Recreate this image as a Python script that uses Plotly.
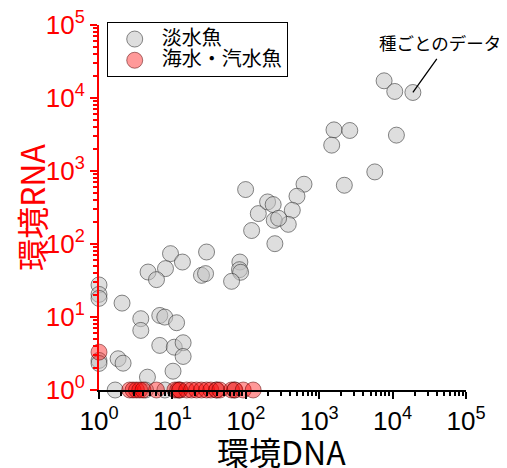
import math
import plotly.graph_objects as go

# Freshwater fish (淡水魚): environmental DNA (x) vs environmental RNA (y)
fresh_dna = [7660, 10700, 18900, 1590, 2610, 1480, 11270, 5720, 2200, 621,
             498, 430, 379, 249, 120, 148, 198, 236, 244, 280,
             99.4, 83, 82, 85, 9.42, 13.7, 29.2, 8.05, 4.66, 6.07,
             24.9, 28.3, 64, 2.06, 3.71, 3.71, 6.73, 7.87, 11.4, 6.73,
             10.6, 14, 14, 1.82, 2.13, 4.57, 10.2,
             1, 1, 1, 1, 1,
             1.66, 4.3, 7.9, 12.5, 40, 70]
fresh_rna = [17200, 12300, 11900, 3660, 3590, 2260, 3100, 972, 638, 659,
             451, 290, 186, 101, 153, 261, 377, 347, 211, 225,
             557, 56.6, 44.5, 41, 73.8, 56.6, 77.7, 46, 41.3, 32.5,
             37.2, 39.3, 30.8, 15.5, 9.48, 6.55, 10.5, 9.97, 8.35, 4.08,
             3.86, 4.44, 2.88, 2.68, 2.33, 1.5, 1.81,
             27.5, 20.4, 18, 2.54, 2.31,
             1, 1, 1, 1, 1, 1]

# Marine / brackish fish (海水・汽水魚)
sea_dna = [1, 2.62, 2.91, 3.24, 3.59, 3.98, 6.07, 10.8, 11.8, 12.6,
           15.6, 18.2, 21.3, 24.9, 29.2, 33.4, 40, 44.3, 64, 71,
           92.2, 126]
sea_rna = [3.3, 1, 1, 1, 1, 1, 1, 1, 1, 1,
           1, 1, 1, 1, 1, 1, 1, 1, 1, 1,
           1, 1]

tick_values = [1, 10, 100, 1000, 10000, 100000]
tick_labels = ["10<sup>0</sup>", "10<sup>1</sup>", "10<sup>2</sup>",
               "10<sup>3</sup>", "10<sup>4</sup>", "10<sup>5</sup>"]

series_names = ["淡水魚", "海水・汽水魚"]
x_title = "環境DNA"
y_title = "環境RNA"
note_text = "種ごとのデータ"
note_index = 2  # the freshwater point the note points at

JP = "Noto Sans CJK JP, Liberation Sans, sans-serif"
NUM = "Liberation Sans, Arial, sans-serif"

fig = go.Figure()
fig.add_trace(go.Scatter(
    x=fresh_dna, y=fresh_rna, mode="markers",
    name='<span style="font-size:20px">%s</span>' % series_names[0],
    cliponaxis=False,
    marker=dict(size=16, color="rgba(195,195,195,0.55)",
                line=dict(color="rgba(40,40,40,0.55)", width=1)),
))
fig.add_trace(go.Scatter(
    x=sea_dna, y=sea_rna, mode="markers",
    name='<span style="font-size:20px">%s</span>' % series_names[1],
    cliponaxis=False,
    marker=dict(size=16, color="rgba(255,0,0,0.4)",
                line=dict(color="rgba(80,0,0,0.5)", width=1)),
))

# leader line from the note to one point (annotations on log axes use log10)
fig.add_annotation(x=math.log10(fresh_dna[note_index]),
                   y=math.log10(fresh_rna[note_index]),
                   xref="x", yref="y", text="", showarrow=True,
                   arrowhead=0, arrowwidth=1.3, arrowcolor="black",
                   ax=25, ay=-35, standoff=0)
fig.add_annotation(x=0.93, y=0.951, xref="paper", yref="paper",
                   xanchor="center", yanchor="middle",
                   text=note_text, showarrow=False,
                   font=dict(family=JP, size=17.5, color="black"))
# x-axis title
fig.add_annotation(x=0.496, y=-0.168, xref="paper", yref="paper",
                   xanchor="center", yanchor="middle",
                   text=x_title, showarrow=False,
                   font=dict(family=JP, size=32, color="black"))

# the page adds an 8px body margin, so the figure is 8px smaller
fig.update_layout(
    width=499, height=460,
    margin=dict(l=91, r=41, t=17, b=78, pad=0),
    plot_bgcolor="white", paper_bgcolor="white",
    showlegend=True,
    legend=dict(x=0.021, y=1.007, xanchor="left", yanchor="top",
                bordercolor="black", borderwidth=1, bgcolor="white",
                font=dict(family=JP, size=14, color="black"),
                itemwidth=44, tracegroupgap=0),
)
fig.update_xaxes(
    type="log", range=[0, 5], tickvals=tick_values, ticktext=tick_labels,
    automargin=False, ticklabeloverflow="allow",
    showgrid=False, zeroline=False,
    showline=True, linecolor="black", linewidth=2,
    ticks="outside", ticklen=7, tickwidth=2, tickcolor="black",
    minor=dict(ticks="outside", ticklen=4, tickwidth=1.5, dtick="D1",
               tickcolor="black", showgrid=False),
    tickfont=dict(family=NUM, size=26, color="black"),
)
fig.update_yaxes(
    type="log", range=[0, 5], tickvals=tick_values, ticktext=tick_labels,
    automargin=False, ticklabeloverflow="allow",
    showgrid=False, zeroline=False,
    showline=True, linecolor="red", linewidth=2,
    ticks="outside", ticklen=7, tickwidth=2, tickcolor="red",
    minor=dict(ticks="outside", ticklen=4, tickwidth=1.5, dtick="D1",
               tickcolor="red", showgrid=False),
    tickfont=dict(family=NUM, size=26, color="red"),
    title=dict(text=y_title, font=dict(family=JP, size=32, color="red"),
               standoff=2),
)

fig.write_html("out.html")
